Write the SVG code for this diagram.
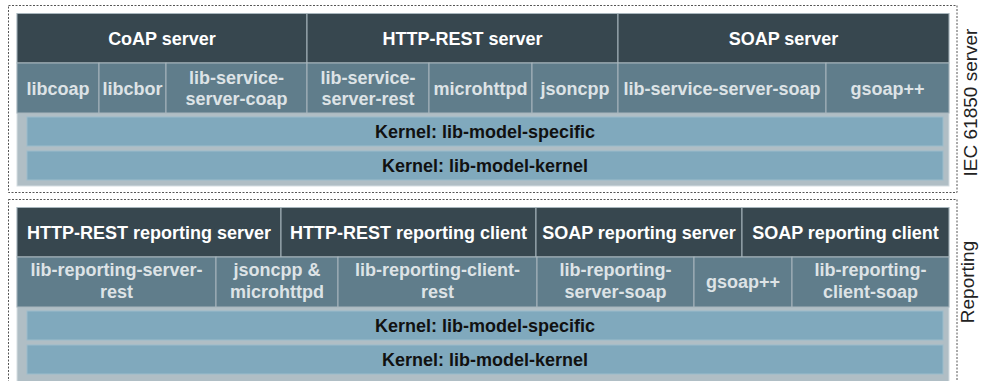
<svg xmlns="http://www.w3.org/2000/svg" width="981" height="381" viewBox="0 0 981 381">
<style>
text{font-family:"Liberation Sans",Arial,sans-serif;text-anchor:middle}
.frame{fill:none;stroke:#555;stroke-width:1;stroke-dasharray:2 1.5}
.bg{fill:#b0bec5;stroke:#d5dde1;stroke-width:1}
.hd{fill:#37474f;stroke:#a8b6bd;stroke-width:1}
.sb{fill:#607d8b;stroke:#a8b6bd;stroke-width:1}
.kn{fill:#80a9bd;stroke:#9cbccb;stroke-width:1}
.th{font-size:18px;font-weight:bold;fill:#fff}
.ts{font-size:18px;font-weight:bold;fill:#dde3e6}
.tk{font-size:18px;font-weight:bold;fill:#111}
.side{font-size:19px;fill:#222}
</style>
<g id="frame-iec">
<rect class="frame" x="8.5" y="5.5" width="948.5" height="187"/>
<text class="side" transform="translate(977,102.5) rotate(-90)">IEC 61850 server</text>
</g>
<g id="frame-reporting">
<rect class="frame" x="8.5" y="199.5" width="948.5" height="200"/>
<text class="side" transform="translate(974,282) rotate(-90)">Reporting</text>
</g>
<rect class="bg" x="17" y="13.5" width="932" height="172.5"/>
<rect class="bg" x="17" y="207.5" width="932" height="180"/>
<g id="coap-server"><rect class="hd" x="17" y="13.5" width="290" height="49.5"/><text class="th" x="162" y="45">CoAP server</text></g>
<g id="http-rest-server"><rect class="hd" x="307" y="13.5" width="311" height="49.5"/><text class="th" x="462.5" y="45">HTTP-REST server</text></g>
<g id="soap-server"><rect class="hd" x="618" y="13.5" width="331" height="49.5"/><text class="th" x="783.5" y="45">SOAP server</text></g>
<g id="libcoap"><rect class="sb" x="17" y="63" width="82" height="50"/><text class="ts" x="58" y="94.5">libcoap</text></g>
<g id="libcbor"><rect class="sb" x="99" y="63" width="67" height="50"/><text class="ts" x="132.5" y="94.5">libcbor</text></g>
<g id="lib-service-server-coap"><rect class="sb" x="166" y="63" width="141" height="50"/><text class="ts" x="236.5" y="84">lib-service-</text><text class="ts" x="236.5" y="105">server-coap</text></g>
<g id="lib-service-server-rest"><rect class="sb" x="307" y="63" width="122" height="50"/><text class="ts" x="368" y="84">lib-service-</text><text class="ts" x="368" y="105">server-rest</text></g>
<g id="microhttpd"><rect class="sb" x="429" y="63" width="103" height="50"/><text class="ts" x="480.5" y="94.5">microhttpd</text></g>
<g id="jsoncpp"><rect class="sb" x="532" y="63" width="86" height="50"/><text class="ts" x="575" y="94.5">jsoncpp</text></g>
<g id="lib-service-server-soap"><rect class="sb" x="618" y="63" width="208" height="50"/><text class="ts" x="722" y="94.5">lib-service-server-soap</text></g>
<g id="gsoap-1"><rect class="sb" x="826" y="63" width="123" height="50"/><text class="ts" x="887.5" y="94.5">gsoap++</text></g>
<g id="kernel-specific-1"><rect class="kn" x="27" y="117" width="916" height="29"/><text class="tk" x="485" y="137.5">Kernel: lib-model-specific</text></g>
<g id="kernel-kernel-1"><rect class="kn" x="27" y="151" width="916" height="29"/><text class="tk" x="485" y="171.5">Kernel: lib-model-kernel</text></g>
<g id="http-rest-reporting-server"><rect class="hd" x="17" y="207.5" width="264" height="49.5"/><text class="th" x="149" y="238.5">HTTP-REST reporting server</text></g>
<g id="http-rest-reporting-client"><rect class="hd" x="281" y="207.5" width="255" height="49.5"/><text class="th" x="408.5" y="238.5">HTTP-REST reporting client</text></g>
<g id="soap-reporting-server"><rect class="hd" x="536" y="207.5" width="206" height="49.5"/><text class="th" x="639" y="238.5">SOAP reporting server</text></g>
<g id="soap-reporting-client"><rect class="hd" x="742" y="207.5" width="207" height="49.5"/><text class="th" x="845.5" y="238.5">SOAP reporting client</text></g>
<g id="lib-reporting-server-rest"><rect class="sb" x="17" y="257" width="199" height="50"/><text class="ts" x="116.5" y="276">lib-reporting-server-</text><text class="ts" x="116.5" y="297.5">rest</text></g>
<g id="jsoncpp-microhttpd"><rect class="sb" x="216" y="257" width="122" height="50"/><text class="ts" x="277" y="276">jsoncpp &amp;</text><text class="ts" x="277" y="297.5">microhttpd</text></g>
<g id="lib-reporting-client-rest"><rect class="sb" x="338" y="257" width="199" height="50"/><text class="ts" x="437.5" y="276">lib-reporting-client-</text><text class="ts" x="437.5" y="297.5">rest</text></g>
<g id="lib-reporting-server-soap"><rect class="sb" x="537" y="257" width="157" height="50"/><text class="ts" x="615.5" y="276">lib-reporting-</text><text class="ts" x="615.5" y="297.5">server-soap</text></g>
<g id="gsoap-2"><rect class="sb" x="694" y="257" width="98" height="50"/><text class="ts" x="743" y="288">gsoap++</text></g>
<g id="lib-reporting-client-soap"><rect class="sb" x="792" y="257" width="157" height="50"/><text class="ts" x="870.5" y="276">lib-reporting-</text><text class="ts" x="870.5" y="297.5">client-soap</text></g>
<g id="kernel-specific-2"><rect class="kn" x="27" y="311" width="916" height="29"/><text class="tk" x="485" y="331.5">Kernel: lib-model-specific</text></g>
<g id="kernel-kernel-2"><rect class="kn" x="27" y="345" width="916" height="29"/><text class="tk" x="485" y="365.5">Kernel: lib-model-kernel</text></g>
<g id="connectors"/>
</svg>
